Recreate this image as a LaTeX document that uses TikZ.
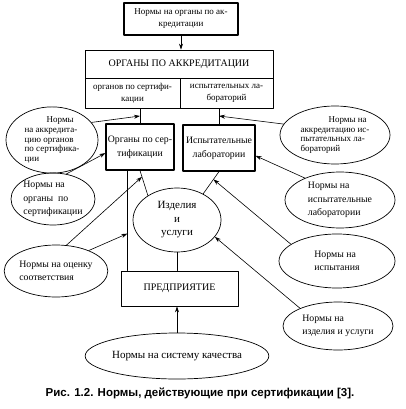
\documentclass[tikz,border=0pt]{standalone}
\usepackage{fontspec}
\setmainfont{Liberation Serif}
\newfontfamily\capfont{Liberation Sans}
\usetikzlibrary{arrows.meta,shapes.geometric,calc}

\begin{document}
\begin{tikzpicture}[x=1pt,y=-1pt,line cap=round,line join=round,
  box/.style={draw,line width=0.8pt,inner sep=1pt,align=center,font=\fontsize{9.5}{11.5}\selectfont},
  thickbox/.style={box,line width=1.2pt},
  oval/.style={draw,ellipse,line width=0.7pt,inner sep=0pt,align=left,font=\fontsize{9.8}{13.5}\selectfont},
  tightoval/.style={oval,font=\fontsize{9}{9.8}\selectfont},
  arr/.style={line width=0.6pt,-{Stealth[length=6pt,width=4pt]}},
  link/.style={line width=0.6pt}]
  \useasboundingbox (0,0) rectangle (406,409);
  % boxes
  \node[thickbox,minimum width=114,minimum height=32,font=\fontsize{9}{12}\selectfont] (top) at (181,19) {Нормы на органы по ак-\\кредитации};
  \node[box,minimum width=188,minimum height=28,font=\fontsize{10}{12}\selectfont] (accr) at (179,64) {ОРГАНЫ ПО АККРЕДИТАЦИИ};
  \node[box,minimum width=95,minimum height=30,font=\fontsize{9}{12}\selectfont] (accrcert) at (132.5,93) {органов по сертифи-\\кации};
  \node[box,minimum width=93,minimum height=30,font=\fontsize{9}{12}\selectfont] (accrlab) at (226.5,93) {испытательных ла-\\бораторий};
  \node[thickbox,minimum width=68,minimum height=46,font=\fontsize{9.8}{14}\selectfont] (certbody) at (140,147) {Органы по сер-\\тификации};
  \node[thickbox,minimum width=72,minimum height=46,font=\fontsize{9.8}{14}\selectfont] (labs) at (219,148) {Испытательные\\лаборатории};
  \node[oval,align=center,minimum width=88,minimum height=64,font=\fontsize{11}{13.5}\selectfont] (products) at (177,220) {Изделия\\и\\услуги};
  \node[box,minimum width=117,minimum height=35,font=\fontsize{10}{12}\selectfont] (enterprise) at (179.5,288.5) {ПРЕДПРИЯТИЕ};
  \node[oval,minimum width=158,minimum height=46,font=\fontsize{11}{13}\selectfont] (quality) at (177,356) {Нормы на систему качества};
  % norms on the left
  \node[tightoval,minimum width=92,minimum height=66] (n1) at (52,140) {\hspace*{22pt}Нормы\\на аккредита-\\цию органов\\по сертифика-\\ции};
  \node[oval,minimum width=84,minimum height=52] (n2) at (53,199) {Нормы на\\органы\ \ по\\сертификации};
  \node[oval,minimum width=92,minimum height=52] (n3) at (56,271) {Нормы на оценку\\соответствия};
  % norms on the right
  \node[tightoval,minimum width=110,minimum height=58] (n4) at (335,135) {\hspace*{28pt}Нормы на\\аккредитацию ис-\\пытательных ла-\\бораторий};
  \node[oval,minimum width=110,minimum height=56] (n5) at (340,200) {Нормы на\\испытательные\\лаборатории};
  \node[oval,minimum width=116,minimum height=54] (n6) at (337,261) {Нормы на\\испытания};
  \node[oval,minimum width=110,minimum height=48] (n7) at (338,326) {Нормы на\\изделия и услуги};
  % caption
  \node[font=\capfont\bfseries\fontsize{11.5}{13}\selectfont] (caption) at (200,393) {Рис. 1.2. Нормы, действующие при сертификации [3].};
  % links
  \coordinate (accrcertlink) at (140,116);
  \coordinate (accrlablink) at (219,116);
  \coordinate (certprodlink) at ($(certbody.south)!0.25!(products.140)$);
  \coordinate (labprodlink) at ($(labs.south)!0.35!(products.45)$);
  \coordinate (cvtop) at ([xshift=22]certbody.south west);
  \coordinate (cvbot) at (cvtop |- enterprise.north);
  \coordinate (cvlink) at ($(cvtop)!0.63!(cvbot)$);
  \draw[arr] (top.south) -- (top.south |- accr.north);
  \draw[link] (certbody.north) -- (certbody.north |- accrcert.south);
  \draw[link] (labs.north) -- (labs.north |- accrlab.south);
  \draw[link] (certbody.south) -- (products.140);
  \draw[link] (labs.south) -- (products.45);
  \draw[link] (cvtop) -- (cvbot);
  \draw[link] (products.south) -- (products.south |- enterprise.north);
  \draw[arr] (quality.north) -- (quality.north |- enterprise.south);
  % arrows from the norms
  \draw[arr] (n1.24) -- (accrcertlink);
  \draw[arr] (n2.62) -- (certbody.190);
  \draw[arr] (n3.68) -- (certprodlink);
  \draw[arr] (n3.32) -- (cvlink);
  \draw[arr] (n4.168) -- (accrlablink);
  \draw[arr] (n5.148) -- (labs.-12);
  \draw[arr] (n6.160) -- (labprodlink);
  \draw[arr] (n7.155) -- (products.-24);
\end{tikzpicture}
\end{document}
